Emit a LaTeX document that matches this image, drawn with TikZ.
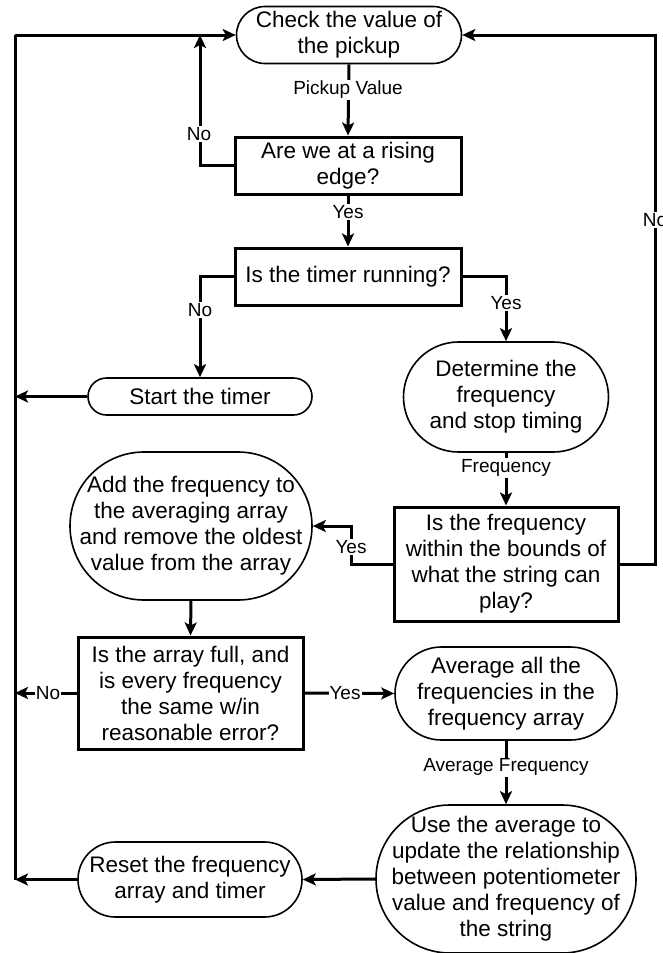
\documentclass[tikz,border=0pt]{standalone}
\usepackage{fontspec}
\setmainfont{Liberation Sans}
\usetikzlibrary{arrows.meta}
\begin{document}
\begin{tikzpicture}[x=1pt,y=-1pt,
  base/.style={align=center,inner sep=0pt,font=\fontsize{22.5}{26}\selectfont},
  term/.style={base,draw,line width=1.6pt},
  dec/.style={base,draw,line width=3pt,rectangle},
  conn/.style={line width=3pt,-{Stealth[length=13pt,width=12pt,inset=3pt]}},
  plain/.style={line width=3pt},
  lab/.style={fill=white,inner sep=1pt,font=\fontsize{19}{22}\selectfont}
]
\fill[white] (0,0) rectangle (663,953);
\useasboundingbox (0,0) rectangle (663,953);

\node[term,minimum width=225pt,minimum height=57pt,rounded corners=28.5pt] (check) at (349,35) {Check the value of\\the pickup};
\node[dec,minimum width=226pt,minimum height=57pt] (rise) at (348,165.5) {Are we at a rising\\edge?};
\node[dec,minimum width=226pt,minimum height=57pt] (timer) at (348,276.5) {Is the timer running?};
\node[term,minimum width=224pt,minimum height=37pt,rounded corners=18.5pt] (start) at (200,396.5) {Start the timer};
\node[term,minimum width=205pt,minimum height=110pt,rounded corners=55pt] (det) at (506,397) {Determine the\\frequency\\and stop timing};
\node[dec,minimum width=224pt,minimum height=114pt] (bounds) at (506,564) {Is the frequency\\within the bounds of\\what the string can\\play?};
\node[term,minimum width=242pt,minimum height=148pt,rounded corners=74pt] (add) at (191,526) {Add the frequency to\\the averaging array\\and remove the oldest\\value from the array};
\node[dec,minimum width=225pt,minimum height=112pt] (arr) at (190.5,693) {Is the array full, and\\is every frequency\\the same w/in\\reasonable error?};
\node[term,minimum width=222pt,minimum height=93pt,rounded corners=46.5pt] (avg) at (506,693.5) {Average all the\\frequencies in the\\frequency array};
\node[term,minimum width=260pt,minimum height=148pt,rounded corners=74pt] (use) at (506,879) {Use the average to\\update the relationship\\between potentiometer\\value and frequency of\\the string};
\node[term,minimum width=224pt,minimum height=75pt,rounded corners=37.5pt] (reset) at (190,879.5) {Reset the frequency\\array and timer};

\coordinate (tl) at (15,35);
\coordinate (tr) at (655,35);
\coordinate (bl) at (15,879.5);

% left return line
\draw[plain] (bl) -- (tl);
\draw[conn] (tl) -- (check.west);
% right return line
\draw[conn] (bounds.east) -| (tr) -- (check.east);
\node[lab] (nor) at (655,220) {No};

\draw[conn] (check.south) -- (rise.north);
\node[lab] (pv) at (348,90) {Pickup Value};

\coordinate (risec) at (200,35);
\draw[conn] (rise.west) -| (risec);
\node[lab] (nol) at (199,134) {No};

\draw[conn] (rise.south) -- (timer.north);
\node[lab] (yes1) at (348,212) {Yes};

\draw[conn] (timer.west) -| (start.north);
\node[lab] (no2) at (200,310) {No};
\draw[conn] (timer.east) -| (det.north);
\node[lab] (yes2) at (506,303) {Yes};

\coordinate (startl) at (15,396.5);
\draw[conn] (start.west) -- (startl);

\draw[conn] (det.south) -- (bounds.north);
\node[lab] (fr) at (506,468) {Frequency};

\draw[conn] (bounds.west) -- ++(-41,0) |- (add.east);
\node[lab] (yes3) at (351,547) {Yes};

\draw[conn] (add.south) -- (arr.north);

\coordinate (arrl) at (15,693);
\draw[conn] (arr.west) -- (arrl);
\node[lab] (no3) at (48,693) {No};
\draw[conn] (arr.east) -- (avg.west);
\node[lab] (yes4) at (345,693) {Yes};

\draw[conn] (avg.south) -- (use.north);
\node[lab] (af) at (506,767) {Average Frequency};

\draw[conn] (use.west) -- (reset.east);
\draw[conn] (reset.west) -- (bl);
\end{tikzpicture}
\end{document}
